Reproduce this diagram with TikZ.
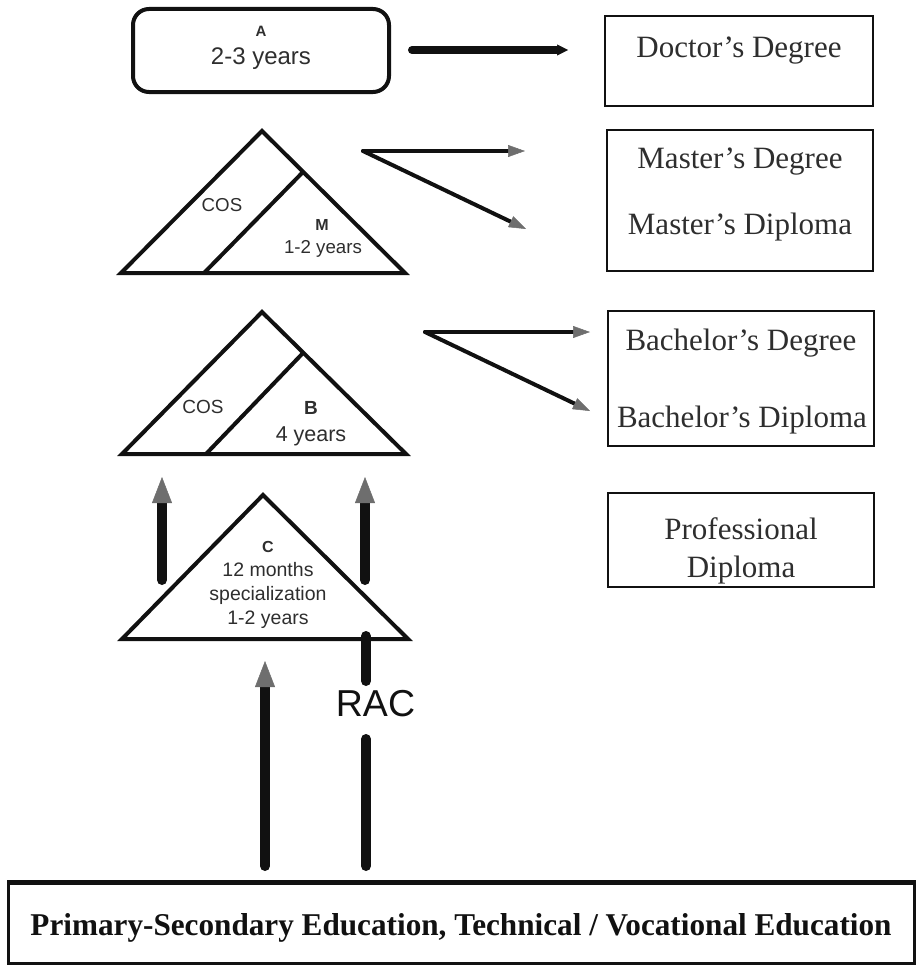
\documentclass[tikz,border=0pt]{standalone}
\usepackage{fontspec}
\setmainfont{Liberation Serif}
\newfontfamily\lsans{Liberation Sans}
\usetikzlibrary{arrows.meta}
\definecolor{ink}{HTML}{111111}
\definecolor{txt}{HTML}{2E2E2E}
\definecolor{headgray}{HTML}{6E6E6E}
\begin{document}
\begin{tikzpicture}[x=1pt,y=-1pt,
  tri/.style={draw=ink,line width=4pt,line join=miter},
  degbox/.style={draw=ink,line width=2pt,rectangle,inner sep=0pt},
  degtxt/.style={font=\fontsize{31}{31}\selectfont,text=txt,inner sep=0pt,anchor=base},
  lab/.style={font=\lsans\fontsize{18.7}{22}\selectfont,text=txt,align=center,inner sep=0pt},
  blab/.style={font=\lsans\bfseries\fontsize{15}{18}\selectfont,text=txt,inner sep=0pt},
  uparrow/.style={line width=10pt,draw=ink,line cap=round,
     -{Triangle[length=26pt,width=20pt,line width=0.5pt,color=headgray]}},
  diagarrow/.style={line width=4pt,draw=ink,line cap=round,
     -{Triangle[length=17pt,width=12pt,line width=0.5pt,color=headgray]}},
  barline/.style={line width=10pt,draw=ink,line cap=round}
]
\useasboundingbox (0,0) rectangle (918,966);

% ---------- A box ----------
\node[draw=ink,line width=4pt,rounded corners=16pt,minimum width=256pt,minimum height=83pt,inner sep=0pt] (A) at (261,50.5) {};
\node[blab] (Alab) at (261,31) {A};
\node[lab,font=\lsans\fontsize{24}{26}\selectfont] (Ayrs) at (261,59) {2-3 years};

% ---------- right-hand boxes ----------
\node[degbox,minimum width=268pt,minimum height=89pt] (doc) at (739,61) {};
\node[degtxt] (doct) at (739,58) {Doctor’s Degree};

\node[degbox,minimum width=266pt,minimum height=141pt] (mas) at (740,200.5) {};
\node[degtxt] (mast1) at (740,168) {Master’s Degree};
\node[degtxt] (mast2) at (740,234) {Master’s Diploma};

\node[degbox,minimum width=266pt,minimum height=135pt] (bac) at (741,378) {};
\node[degtxt] (bact1) at (741,350) {Bachelor’s Degree};
\node[degtxt] (bact2) at (742,427.5) {Bachelor’s Diploma};

\node[degbox,minimum width=266pt,minimum height=94pt] (pro) at (741,540) {};
\node[degtxt] (prot1) at (741,539) {Professional};
\node[degtxt] (prot2) at (741,577) {Diploma};

% ---------- Doctor arrow ----------
\coordinate (dS) at (412,50);
\coordinate (dE) at (568,50);
\draw[line width=8pt,draw=ink,line cap=round,-{Triangle[length=11pt,width=11pt,line width=0.5pt]}] (dS) -- (dE);

% ---------- Master triangle ----------
\coordinate (mT) at (262,131);
\coordinate (mL) at (121,273);
\coordinate (mR) at (405,273);
\coordinate (mD1) at (303,172);
\coordinate (mD2) at (204,273);
\draw[tri] (mT) -- (mR) -- (mL) -- cycle;
\draw[tri] (mD1) -- (mD2);
\node[lab] (mcos) at (222,205) {COS};
\node[blab,font=\lsans\bfseries\fontsize{16}{18}\selectfont] (mM) at (322,225) {M};
\node[lab] (myrs) at (323,249) {1-2 years};

\coordinate (mA) at (363,151);
\coordinate (mA1) at (525,151);
\coordinate (mA2) at (526,229);
\draw[diagarrow] (mA) -- (mA1);
\draw[diagarrow] (mA) -- (mA2);

% ---------- Bachelor triangle ----------
\coordinate (bT) at (262,312);
\coordinate (bL) at (122,454);
\coordinate (bR) at (406,454);
\coordinate (bD1) at (303,353);
\coordinate (bD2) at (206,454);
\draw[tri] (bT) -- (bR) -- (bL) -- cycle;
\draw[tri] (bD1) -- (bD2);
\node[lab,font=\lsans\fontsize{19}{22}\selectfont] (bcos) at (203,407) {COS};
\node[blab,font=\lsans\bfseries\fontsize{19}{22}\selectfont] (bB) at (311,408) {B};
\node[lab,font=\lsans\fontsize{21.5}{24}\selectfont] (byrs) at (311,436) {4 years};

\coordinate (bA) at (425,332);
\coordinate (bA1) at (590,332);
\coordinate (bA2) at (590,411);
\draw[diagarrow] (bA) -- (bA1);
\draw[diagarrow] (bA) -- (bA2);

% ---------- C triangle ----------
\coordinate (cT) at (263,495);
\coordinate (cL) at (122,639);
\coordinate (cR) at (408,639);
\draw[tri] (cT) -- (cR) -- (cL) -- cycle;
\node[lab,font=\lsans\fontsize{19.5}{24}\selectfont] (clab) at (268,585)
  {{\lsans\bfseries\fontsize{16}{16}\selectfont C}\\12 months\\specialization\\1-2 years};

% ---------- up arrows ----------
\coordinate (uL0) at (162,580);
\coordinate (uL1) at (162,477);
\coordinate (uR0) at (365,580);
\coordinate (uR1) at (365,477);
\draw[uparrow] (uL0) -- (uL1);
\draw[uparrow] (uR0) -- (uR1);

% ---------- bottom box ----------
\node[draw=ink,line width=3pt,minimum width=906pt,minimum height=80pt,inner sep=0pt] (prim) at (461.5,923.5) {};
\draw[ink,line width=5pt] (prim.north west) -- (prim.north east);
\node[inner sep=0pt,anchor=base,text=ink] (primt) at (461,935)
  {\resizebox{861pt}{22pt}{\bfseries Primary-Secondary Education, Technical / Vocational Education}};

% ---------- bottom arrows / RAC ----------
\coordinate (pA) at (265,866);
\coordinate (pB) at (265,661);
\draw[uparrow] (pA) -- (pB);

\node[inner sep=0pt,text=ink,font=\lsans\fontsize{37.5}{40}\selectfont] (rac) at (375.5,704) {RAC};
\coordinate (r1) at (366,636);
\coordinate (r2) at (366,681);
\coordinate (r3) at (366,739);
\coordinate (r4) at (366,866);
\draw[barline] (r1) -- (r2);
\draw[barline] (r3) -- (r4);
\end{tikzpicture}
\end{document}
